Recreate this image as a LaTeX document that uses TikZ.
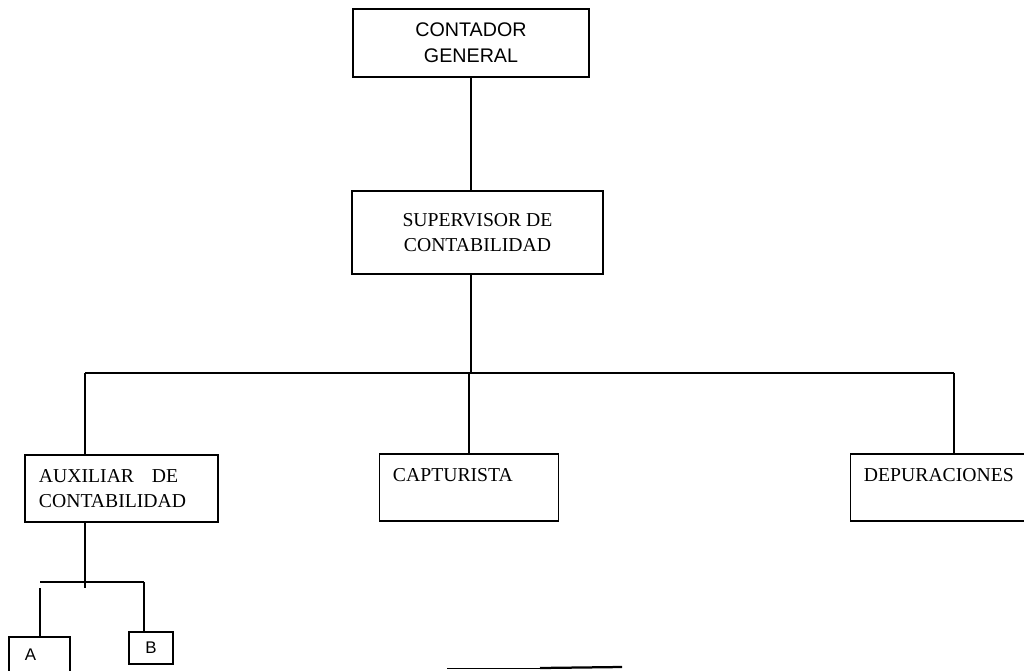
\documentclass[tikz,border=0pt]{standalone}
\usepackage{fontspec}
\setmainfont{Liberation Serif}
\newfontfamily\cgsans{Liberation Sans}

\tikzset{
  puesto/.style={draw,line width=1pt,align=left,inner xsep=0.33cm,inner ysep=0pt,font=\fontsize{14}{17.8}\selectfont},
  puestosans/.style={puesto,font=\cgsans\fontsize{14}{18.5}\selectfont},
  letra/.style={puesto,font=\cgsans\fontsize{12}{13}\selectfont},
}

\begin{document}
\begin{tikzpicture}[x=0.025cm,y=-0.025cm]
      \useasboundingbox (0,0) rectangle (1024,670);
      \clip (0,0) rectangle (1024,670);
      \draw
        (471,43) node[puestosans,align=center,minimum width=5.9cm,minimum height=1.7cm] (cg){CONTADOR\\GENERAL}
        (477.5,232.5) node[puesto,align=center,minimum width=6.275cm,minimum height=2.075cm] (sup){SUPERVISOR DE\\CONTABILIDAD}
        (121.5,488.5) node[puesto,text width=4.125cm,inner xsep=0.35cm,minimum height=1.675cm] (aux){AUXILIAR\hspace{0.9em}DE\\CONTABILIDAD}
        (469,487.5) node[puesto,text width=3.8cm,minimum height=1.675cm] (cap){CAPTURISTA\\\mbox{}}
        (945.5,487.5) node[puesto,text width=4.075cm,minimum height=1.675cm] (dep){DEPURACIONES\\\mbox{}}
        (39.5,663.5) node[letra,text width=0.725cm,inner xsep=0.4cm,minimum height=1.325cm] (A){A\\\mbox{}}
        (151,648) node[letra,align=center,minimum width=1.1cm,minimum height=0.8cm] (B){B};
      \coordinate (busL) at (85,373);
      \coordinate (busR) at (954,373);
      \coordinate (subL) at (40,582);
      \coordinate (subR) at (144,582);
      \coordinate (subM) at (85,588);
      \begin{scope}[line width=0.8pt]
        \draw (cg.south) -- (cg.south |- sup.north);
        \draw (cg.south |- sup.south) -- (cg.south |- busL);
        \draw (busL) -- (busR);
        \draw (busL) -- (busL |- aux.north);
        \draw (cap.north |- busL) -- (cap.north);
        \draw (busR) -- (busR |- dep.north);
        \draw (subM |- aux.south) -- (subM);
        \draw (subL) -- (subR);
        \draw (subL |- subM) -- (subL |- A.north);
        \draw (subR) -- (subR |- B.north);
      \end{scope}
      \draw[line width=0.5pt] (447,668) -- (540,668);
      \draw[line width=1.6pt] (540,668) -- (622,667);
    \end{tikzpicture}
\end{document}
